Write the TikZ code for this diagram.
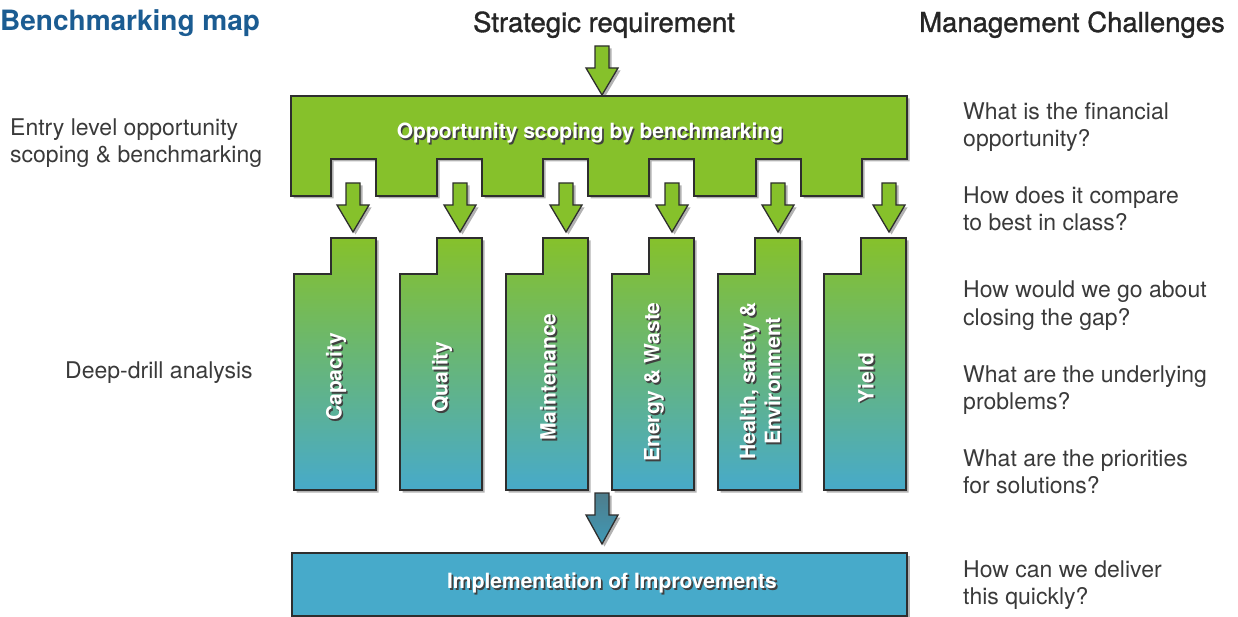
\documentclass[tikz,border=0pt]{standalone}
\usepackage{fontspec}
\setmainfont{TeX Gyre Heros}
\newfontfamily\medfont[FakeBold=1.2]{TeX Gyre Heros}
\usetikzlibrary{shadows}
\definecolor{bgreen}{HTML}{86C12B}
\definecolor{bblue}{HTML}{47AACA}
\definecolor{tblue}{HTML}{1B5C92}
\definecolor{tgray}{HTML}{3A3A3A}
\definecolor{dteal}{HTML}{4E7D8C}
\definecolor{edge}{HTML}{2E2E2E}
\tikzset{
  shp/.style={draw=edge, line width=1.3pt, line join=miter,
    drop shadow={shadow xshift=2.5pt, shadow yshift=-2.5pt, opacity=0.3, fill=black}},
  greenshape/.style={shp, fill=bgreen},
  blueshape/.style={shp, fill=bblue},
  colshape/.style={shp, top color=bgreen, bottom color=bblue},
  darkarrow/.style={shp, top color=dteal, bottom color=bblue!90!black},
  body/.style={font=\fontsize{23}{28}\selectfont, text=tgray, inner sep=0pt, anchor=base west},
  head/.style={font=\medfont\fontsize{27.5}{32}\selectfont, text=black!85, inner sep=0pt, anchor=base},
  lbl/.style={font=\bfseries\fontsize{21}{25}\selectfont, inner sep=0pt, align=center},
}
\newcommand\blockarrow[5]{%
  \draw[#5] (#1-7,#2) -- (#1+7,#2) -- (#1+7,#3) -- (#1+16,#3) -- (#1,#4) -- (#1-16,#3) -- (#1-7,#3) -- cycle;}
\newcommand\benchcol[1]{%
  \draw[colshape] (#1-37,274) -- (#1,274) -- (#1,238) -- (#1+45,238) -- (#1+45,490) -- (#1-37,490) -- cycle;}
\newcommand\shlabel[4]{%
  \node[lbl, text=black!75, #4] at ([shift={(1.6,1.6)}]#1) {#3};
  \node[lbl, text=white, #4] (#2) at (#1) {#3};}
\begin{document}
\begin{tikzpicture}[x=1pt, y=-1pt]
\useasboundingbox (0,0) rectangle (1238,617);
% headers
\node[font=\bfseries\fontsize{28}{32}\selectfont, text=tblue, inner sep=0pt, anchor=base west] (title) at (0,31) {Benchmarking map};
\node[head] (strat) at (604,32) {Strategic requirement};
\node[head] (mgmt) at (1072,32) {Management Challenges};
% top arrow
\blockarrow{602}{46}{68}{95}{greenshape}
% top bar
\draw[greenshape] (291,96) -- (907,96) -- (907,159) -- (862,159) -- (862,196)
  -- (801,196) -- (801,159) -- (756,159) -- (756,196)
  -- (694,196) -- (694,159) -- (649,159) -- (649,196)
  -- (588,196) -- (588,159) -- (543,159) -- (543,196)
  -- (482,196) -- (482,159) -- (437,159) -- (437,196)
  -- (376,196) -- (376,159) -- (331,159) -- (331,196)
  -- (291,196) -- cycle;
\shlabel{590,133}{oppscope}{Opportunity scoping by benchmarking}{}
% small arrows
\foreach \x in {353,460,566,672,778,889} {\blockarrow{\x}{183}{205}{232}{greenshape}}
% columns
\foreach \t in {331,437,543,649,755,861} {\benchcol{\t}}
\shlabel{336,377}{cap}{Capacity}{rotate=90}
\shlabel{442,377}{qual}{Quality}{rotate=90}
\shlabel{548,377}{maint}{Maintenance}{rotate=90}
\shlabel{654,382}{energy}{Energy \& Waste}{rotate=90}
\shlabel{760,381}{hse}{Health, safety \&\\Environment}{rotate=90}
\shlabel{866,378}{yield}{Yield}{rotate=90}
% bottom arrow
\blockarrow{602}{493}{515}{544}{darkarrow}
% bottom box
\draw[blueshape] (292,553) rectangle (907,616);
\shlabel{612,583}{impl}{Implementation of Improvements}{}
% left labels
\node[body] (l1) at (10,136) {Entry level opportunity};
\node[body] (l2) at (10,163) {scoping \& benchmarking};
\node[body] (l3) at (65,378) {Deep-drill analysis};
% right questions
\node[body] (q1a) at (963,120) {What is the financial};
\node[body] (q1b) at (963,147) {opportunity?};
\node[body] (q2a) at (963,204) {How does it compare};
\node[body] (q2b) at (963,231) {to best in class?};
\node[body] (q3a) at (963,298) {How would we go about};
\node[body] (q3b) at (963,325) {closing the gap?};
\node[body] (q4a) at (963,382) {What are the underlying};
\node[body] (q4b) at (963,409) {problems?};
\node[body] (q5a) at (963,466) {What are the priorities};
\node[body] (q5b) at (963,493) {for solutions?};
\node[body] (q6a) at (963,577) {How can we deliver};
\node[body] (q6b) at (963,604) {this quickly?};
\end{tikzpicture}
\end{document}
